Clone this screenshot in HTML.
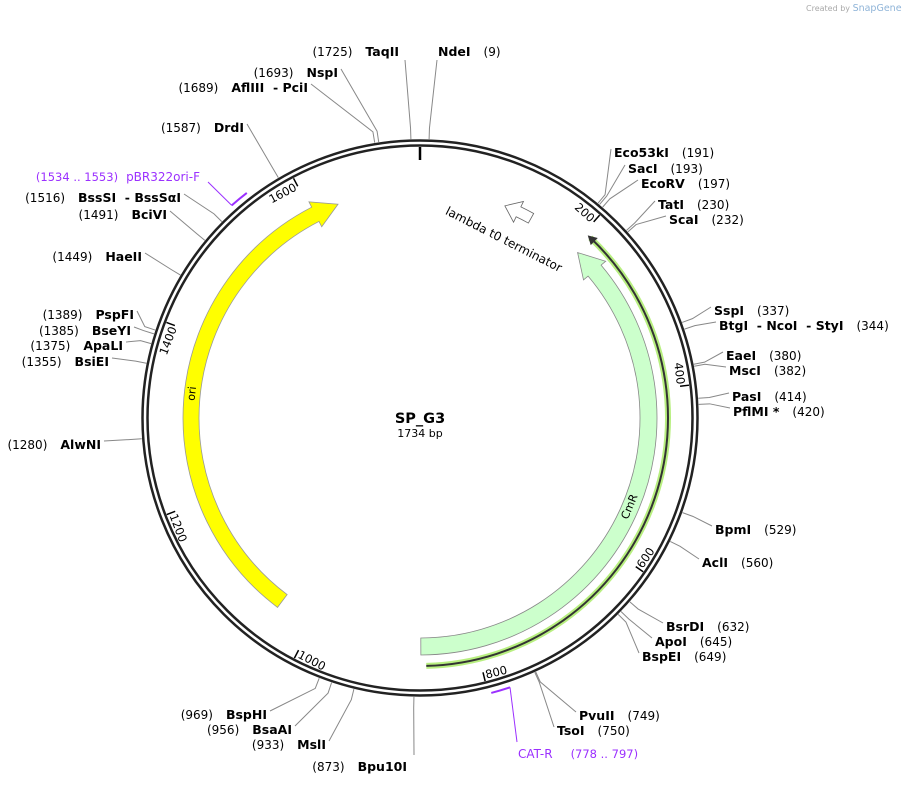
<!DOCTYPE html>
<html><head><meta charset="utf-8"><style>
html,body{margin:0;padding:0;background:#fff;}
svg{display:block;font-family:"DejaVu Sans","Liberation Sans",sans-serif;}
.nm{font-weight:bold;font-size:12.5px;fill:#000}
.num{font-size:12px;fill:#000}
</style></head><body>
<svg id="map" width="903" height="786" viewBox="0 0 903 786" xmlns="http://www.w3.org/2000/svg">
<text x="806" y="11" font-size="8" fill="#aaa">Created by <tspan fill="#8fb4d8" font-size="9.5">SnapGene</tspan></text>
<g id="features"></g>
<g id="backbone"></g>
<g id="sites"></g>
<text x="420" y="423" text-anchor="middle" font-weight="bold" font-size="14.5">SP_G3</text>
<text x="420" y="437" text-anchor="middle" font-size="11">1734 bp</text>
</svg>
<script>
// ---- data ----
const totalBp = 1734;
const siteNames = ["Eco53kI","SacI","EcoRV","TatI","ScaI","SspI","BtgI\u00a0\u00a0- NcoI\u00a0\u00a0- StyI","EaeI","MscI","PasI","PflMI *","BpmI","AclI","BsrDI","ApoI","BspEI","PvuII","TsoI","NdeI",
  "Bpu10I","BspHI","BsaAI","MslI","AlwNI","BsiEI","ApaLI","BseYI","PspFI","HaeII","BciVI","BssSI\u00a0\u00a0- BssS\u03b1I","DrdI","AflIII\u00a0\u00a0- PciI","NspI","TaqII"];
const sitePositions = [191,193,197,230,232,337,344,380,382,414,420,529,560,632,645,649,749,750,9,
  873,969,956,933,1280,1355,1375,1385,1389,1449,1491,1516,1587,1689,1693,1725];
const tickValues = [200,400,600,800,1000,1200,1400,1600];
const featureNames = ["ori","CmR","lambda t0 terminator"];
const featureStarts = [1045,210,105];
const featureEnds = [1633,866,140];
const promoterStart = 205, promoterEnd = 860;
const primerNames = ["pBR322ori-F","CAT-R"];
const primerStarts = [1534,778];
const primerEnds = [1553,797];

// ---- layout (label placement, not data) ----
const labelSide = ["R","R","R","R","R","R","R","R","R","R","R","R","R","R","R","R","R","R","R",
  "L","L","L","L","L","L","L","L","L","L","L","L","L","L","L","L"];
const labelX = [614,628,641,658,669,714,719,726,729,732,733,715,702,666,655,642,579,557,438,
  407,267,292,326,101,109,123,131,134,142,167,181,244,308,338,399];
const labelY = [153,169,184,205,220,311,326,356,371,397,412,530,563,627,642,657,716,731,52,
  767,715,730,745,445,362,346,331,315,257,215,198,128,88,73,52];

const NS="http://www.w3.org/2000/svg";
const cx=420, cy=418;
function ang(p){return p/totalBp*2*Math.PI;}
function pt(r,p){const a=ang(p);return [cx+r*Math.sin(a), cy-r*Math.cos(a)];}
function mk(tag,attrs,parent){const e=document.createElementNS(NS,tag);for(const k in attrs)e.setAttribute(k,attrs[k]);parent.appendChild(e);return e;}
function arc(r,p1,p2){const [x1,y1]=pt(r,p1),[x2,y2]=pt(r,p2);const large=(p2-p1)/totalBp>0.5?1:0;return `M${x1},${y1} A${r},${r} 0 ${large} 1 ${x2},${y2}`;}
function arrowPath(s,e,ri,ro,cw,head){
  const rm=(ri+ro)/2, w=6;
  const P=(r,p)=>pt(r,p).join(",");
  const lg=(a,b)=>Math.abs(b-a)/totalBp>0.5?1:0;
  if(cw){const h=e-head;
    return `M${P(ro,s)} A${ro},${ro} 0 ${lg(s,h)} 1 ${P(ro,h)} L${P(ro+w,h)} L${P(rm,e)} L${P(ri-w,h)} L${P(ri,h)} A${ri},${ri} 0 ${lg(s,h)} 0 ${P(ri,s)} Z`;}
  else{const h=s+head;
    return `M${P(ro,e)} A${ro},${ro} 0 ${lg(h,e)} 0 ${P(ro,h)} L${P(ro+w,h)} L${P(rm,s)} L${P(ri-w,h)} L${P(ri,h)} A${ri},${ri} 0 ${lg(h,e)} 1 ${P(ri,e)} Z`;}
}

// backbone
const bb=document.getElementById('backbone');
let c=mk('circle',{cx,cy,r:277.5,fill:'none',stroke:'#222','stroke-width':2.5},bb);


c=mk('circle',{cx,cy,r:272.5,fill:'none',stroke:'#222','stroke-width':2.5},bb);


{const [x1,y1]=pt(271,0),[x2,y2]=pt(258,0);
 const l=mk('line',{x1,y1,x2,y2,stroke:'#000','stroke-width':2.5},bb);
 
 }
tickValues.forEach(v=>{
  const [x1,y1]=pt(271,v),[x2,y2]=pt(262,v);
  const l=mk('line',{x1,y1,x2,y2,stroke:'#000','stroke-width':1.5},bb);
  
  
  const deg=v/totalBp*360;
  const bottom=deg>90&&deg<270;
  const [tx,ty]=pt(bottom?269:259,v-2);
  const rot=bottom?deg-180:deg;
  const t=mk('text',{x:tx,y:ty,'font-size':11.5,'text-anchor':bottom?'start':'end',transform:`rotate(${rot} ${tx} ${ty})`},bb);
  t.textContent=v;
  
  
});

// features
const fg=document.getElementById('features');
{const hl=mk('path',{d:arc(248,promoterStart+4,promoterEnd),fill:'none',stroke:'#b8ef80','stroke-width':6},fg);
 
 
 const ln=mk('path',{d:arc(248,promoterStart+4,promoterEnd),fill:'none',stroke:'#333','stroke-width':2},fg);
 
 
 const a=pt(248,promoterStart), b=pt(243,promoterStart+10), d=pt(253,promoterStart+10);
 const hd=mk('path',{d:`M${a} L${b} L${d} Z`,fill:'#333'},fg);
 
 }
const fills=['#ffff00','#ccffcc','#ffffff'];
const strokes=['#999','#888','#666'];
const fr=[[221,237],[220,237],[223,234]];
const cws=[true,false,false];
const heads=[30,30,18];
featureNames.forEach((n,i)=>{
  const p=mk('path',{d:arrowPath(featureStarts[i],featureEnds[i],fr[i][0],fr[i][1],cws[i],heads[i]),fill:fills[i],stroke:strokes[i],'stroke-width':0.8},fg);
  
  
});
function rotText(txt,r,p,size,name){
  const deg=p/totalBp*360;const bottom=deg>90&&deg<270;
  const [x,y]=pt(r,p);const rot=bottom?deg-180:deg;
  const t=mk('text',{x,y,'font-size':size,'text-anchor':'middle','dominant-baseline':'middle',transform:`rotate(${rot} ${x} ${y})`},fg);
  t.textContent=txt;
  
  
}
rotText('ori',229,(featureStarts[0]+featureEnds[0])/2-9,11,'ori-label');
rotText('CmR',228,(featureStarts[1]+featureEnds[1])/2+6,11,'cmr-label');
{const t=mk('text',{x:502,y:243,'font-size':12,'text-anchor':'middle',transform:'rotate(27 502 243)'},fg);
 t.textContent='lambda t0 terminator';
 
 }

// primers
const primerLabelEnd=[[208,182],[517,742]];
primerNames.forEach((n,i)=>{
  const p=mk('path',{d:arc(284,primerStarts[i],primerEnds[i]),fill:'none',stroke:'#9b30ff','stroke-width':2},fg);
  
  
  const s=pt(284,primerStarts[i]);
  const l=mk('line',{x1:s[0],y1:s[1],x2:primerLabelEnd[i][0],y2:primerLabelEnd[i][1],stroke:'#9b30ff','stroke-width':1},fg);
  
  
});
{const t=mk('text',{x:200,y:181,'text-anchor':'end',fill:'#9b30ff','font-size':12},fg);
 t.innerHTML='<tspan font-size="11.5">(1534 .. 1553)</tspan><tspan dx="8">pBR322ori-F</tspan>';
 
 
 const t2=mk('text',{x:518,y:758,fill:'#9b30ff','font-size':12},fg);
 t2.innerHTML='CAT-R<tspan dx="18" font-size="11.5">(778 .. 797)</tspan>';
 
 }

// restriction sites
const sg=document.getElementById('sites');
siteNames.forEach((n,i)=>{
  const p=sitePositions[i];
  const right=labelSide[i]==='R';
  const yc=labelY[i];
  let ex,ey;
  if(yc<70){ex=right?labelX[i]-1:labelX[i]+6;ey=yc+8;}
  else if(yc>760){ex=labelX[i]+7;ey=yc-12;}
  else {ex=right?labelX[i]-3:labelX[i]+3;ey=yc-4;}
  const [x1,y1]=pt(279,p),[x2,y2]=pt(290,p);
  const l=mk('polyline',{points:`${x1},${y1} ${x2},${y2} ${ex},${ey}`,fill:'none',stroke:'#888','stroke-width':1},sg);
  
  
  const t=mk('text',{x:labelX[i],y:yc+4,'text-anchor':right?'start':'end'},sg);
  if(right) t.innerHTML=`<tspan class="nm">${n}</tspan><tspan class="num" dx="13">(${p})</tspan>`;
  else t.innerHTML=`<tspan class="num">(${p})</tspan><tspan class="nm" dx="13">${n}</tspan>`;
  
  
});
</script>
</body></html>
